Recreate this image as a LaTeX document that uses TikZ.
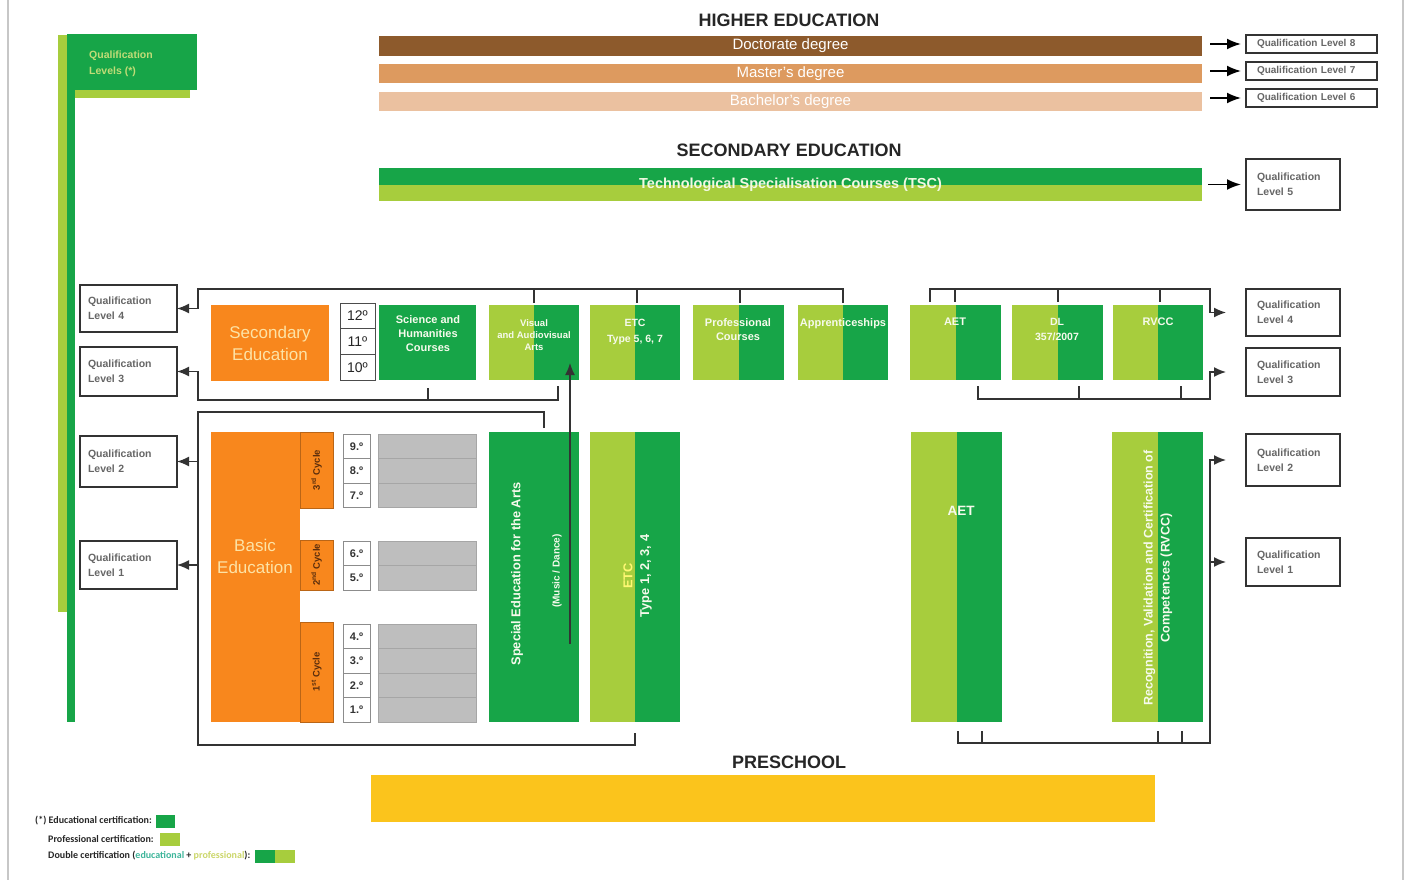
\documentclass[tikz,border=0pt]{standalone}
\usepackage{fontspec}
\setmainfont{Liberation Sans}
\newfontfamily\legendfont{Carlito}
\usetikzlibrary{arrows.meta}
\definecolor{dkg}{HTML}{17A548}
\definecolor{ltg}{HTML}{A7CD3D}
\definecolor{org}{HTML}{F8871D}
\definecolor{brnA}{HTML}{8D5A2C}
\definecolor{brnB}{HTML}{DD9A5F}
\definecolor{brnC}{HTML}{EBC1A0}
\definecolor{gry}{HTML}{BEBEBE}
\definecolor{ylw}{HTML}{FBC41C}
\definecolor{txtg}{HTML}{666666}
\definecolor{cream}{HTML}{FDE3A6}
\definecolor{cyc}{HTML}{5A2D0C}
\definecolor{tealtxt}{HTML}{3DB59A}
\definecolor{paletxt}{HTML}{CBD66A}
\begin{document}
\begin{tikzpicture}[x=1pt,y=-1pt,
  plain/.style={anchor=north west, inner sep=0pt, outer sep=0pt},
  wh/.style 2 args={minimum width=#1pt, minimum height=#2pt},
  splitbox/.style={plain, fill=ltg, path picture={\fill[dkg] (path picture bounding box.north) rectangle (path picture bounding box.south east);}},
  qbox/.style={plain, draw=black!80, line width=1.5pt, fill=white, align=left, text=txtg,
    font=\fontsize{10.5}{15}\selectfont\bfseries},
  qboxL/.style={qbox, inner xsep=8pt, text width=81pt},
  qboxR/.style={qbox, inner xsep=11pt, text width=72pt},
  qboxT/.style={qbox, inner xsep=11pt, text width=109pt, font=\fontsize{10}{12}\selectfont\bfseries},
  head/.style={font=\fontsize{18}{20}\selectfont\bfseries, text=black!85, inner sep=0pt},
  bartext/.style={font=\fontsize{15}{17}\selectfont, text=white},
  boxtext/.style={anchor=north, inner sep=0pt, align=center, text=white!90!ltg,
    font=\fontsize{11}{14}\selectfont\bfseries},
  rottext/.style={rotate=90, inner sep=0pt, align=center, text=white!90!ltg,
    font=\fontsize{12.8}{17}\selectfont\bfseries},
  orgtext/.style={inner sep=0pt, align=center, text=cream, font=\fontsize{17}{22}\selectfont},
  cyctext/.style={rotate=90, inner sep=0pt, text=cyc, font=\fontsize{9.5}{11}\selectfont\bfseries},
  grade/.style={plain, draw=black!45, line width=0.8pt, fill=white, wh={27}{24.5},
    font=\fontsize{11}{12}\selectfont\bfseries, text=black!80},
  bigrade/.style={plain, draw=black!70, line width=0.8pt, fill=white, wh={35}{25.7},
    font=\fontsize{14}{15}\selectfont, text=black!85},
  grayrow/.style={plain, fill=gry, draw=black!35, line width=0.8pt, wh={98}{24.5}},
  conn/.style={draw=black!80, line width=1.5pt},
  arr/.style={conn, -{Latex[length=12pt,width=10pt]}},
  arrT/.style={draw=black, line width=1.8pt, -{Latex[length=14pt,width=11pt]}},
  legend/.style={anchor=west, inner sep=0pt, font=\legendfont\fontsize{10}{11}\selectfont\bfseries, text=black!85}
]
\useasboundingbox (0,0) rectangle (1408,880);

% page frame
\draw[black!22, line width=2pt] (8,0) -- (8,880);
\draw[black!22, line width=2pt] (1403,0) -- (1403,880);

% qualification levels column
\fill[ltg] (58,35) rectangle (67,612);
\fill[dkg] (67,35) rectangle (75,722);
\fill[ltg] (75,90) rectangle (190,98);
\node[plain, fill=dkg, wh={130}{56}] (qlev) at (67,34) {};
\node[anchor=north west, inner sep=0pt, align=left, text=ltg!70!white,
  font=\fontsize{10.5}{16}\selectfont\bfseries] (qlevt) at (89,51) {Qualification\\Levels (*)};

% higher education
\node[head] (he) at (789,20) {HIGHER EDUCATION};
\node[plain, fill=brnA, wh={823}{20}, bartext] (doc) at (379,36) {Doctorate degree};
\node[plain, fill=brnB, wh={823}{19}, bartext] (mas) at (379,64) {Master's degree};
\node[plain, fill=brnC, wh={823}{19}, bartext] (bac) at (379,92) {Bachelor's degree};
\node[qboxT, wh={131}{18}] (q8) at (1246,35) {Qualification Level 8};
\node[qboxT, wh={131}{18}] (q7) at (1246,62) {Qualification Level 7};
\node[qboxT, wh={131}{18}] (q6) at (1246,89) {Qualification Level 6};
\draw[arrT] ([xshift=-36pt]q8.west) -- ([xshift=-5pt]q8.west);
\draw[arrT] ([xshift=-36pt]q7.west) -- ([xshift=-5pt]q7.west);
\draw[arrT] ([xshift=-36pt]q6.west) -- ([xshift=-5pt]q6.west);

% secondary education (post-secondary)
\node[head] (se) at (789,150) {SECONDARY EDUCATION};
\node[plain, fill=ltg, wh={823}{33},
  path picture={\fill[dkg] (path picture bounding box.north west) rectangle ([yshift=-17pt]path picture bounding box.north east);},
  font=\fontsize{14.5}{16}\selectfont\bfseries, text=white!85!ltg] (tsc) at (379,168) {Technological Specialisation Courses (TSC)};
\node[qboxR, wh={94}{51}] (q5) at (1246,159) {Qualification\\Level 5};
\draw[arrT] ([xshift=-38pt]q5.west) -- ([xshift=-5pt]q5.west);

% qualification boxes, left
\node[qboxL, wh={97}{47}] (qL4) at (80,285) {Qualification\\Level 4};
\node[qboxL, wh={97}{49}] (qL3) at (80,347) {Qualification\\Level 3};
\node[qboxL, wh={97}{51}] (qL2) at (80,436) {Qualification\\Level 2};
\node[qboxL, wh={97}{48}] (qL1) at (80,541) {Qualification\\Level 1};

% qualification boxes, right
\node[qboxR, wh={94}{47}] (qR4) at (1246,289) {Qualification\\Level 4};
\node[qboxR, wh={94}{48}] (qR3) at (1246,348) {Qualification\\Level 3};
\node[qboxR, wh={94}{52}] (qR2) at (1246,434) {Qualification\\Level 2};
\node[qboxR, wh={94}{48}] (qR1) at (1246,538) {Qualification\\Level 1};

% upper secondary row
\node[plain, fill=org, wh={118}{76}] (sec) at (211,305) {};
\node[orgtext] (sect) at (sec.center) {Secondary\\Education};
\node[bigrade] (g12) at (340,303) {12º};
\node[bigrade] (g11) at (340,328.7) {11º};
\node[bigrade] (g10) at (340,354.4) {10º};
\node[plain, fill=dkg, wh={97}{75}] (sci) at (379,305) {};
\node[boxtext] (scit) at (428,315) {Science and\\Humanities\\Courses};
\node[splitbox, wh={90}{75}] (vis) at (489,305) {};
\node[boxtext, font=\fontsize{9.5}{12}\selectfont\bfseries] (vist) at (534,319) {Visual\\and Audiovisual\\Arts};
\node[splitbox, wh={90}{75}] (etcA) at (590,305) {};
\node[boxtext, font=\fontsize{10.5}{16}\selectfont\bfseries] (etcAt) at (635,319) {ETC\\Type 5, 6, 7};
\node[splitbox, wh={91}{75}] (prof) at (693,305) {};
\node[boxtext] (proft) at (738,318) {Professional\\Courses};
\node[splitbox, wh={90}{75}] (appr) at (798,305) {};
\node[boxtext] (apprt) at (843,318) {Apprenticeships};
\node[splitbox, wh={91}{75}] (aet) at (910,305) {};
\node[boxtext] (aett) at (955,318) {AET};
\node[splitbox, wh={91}{75}] (dl) at (1012,305) {};
\node[boxtext, font=\fontsize{10.5}{15}\selectfont\bfseries] (dlt) at (1057,318) {DL\\357/2007};
\node[splitbox, wh={90}{75}] (rvcc) at (1113,305) {};
\node[boxtext] (rvcct) at (1158,318) {RVCC};

% basic education
\node[plain, fill=org, wh={89}{290}] (basic) at (211,432) {};
\node[orgtext] (basict) at (255,556) {Basic\\Education};
\node[plain, fill=org, draw=org!75!black, line width=0.6pt, wh={33}{76}] (c3) at (300,432) {};
\node[plain, fill=org, draw=org!75!black, line width=0.6pt, wh={33}{50}] (c2) at (300,540) {};
\node[plain, fill=org, draw=org!75!black, line width=0.6pt, wh={33}{100}] (c1) at (300,622) {};
\node[cyctext] (c3t) at (c3.center) {3\textsuperscript{rd} Cycle};
\node[cyctext] (c2t) at (c2.center) {2\textsuperscript{nd} Cycle};
\node[cyctext] (c1t) at (c1.center) {1\textsuperscript{st} Cycle};
\foreach \g/\y in {9/434,8/458.5,7/483,6/541,5/565.5,4/624,3/648.5,2/673,1/697.5}{
  \node[grade] (g\g) at (343,\y) {\g.º};
  \node[grayrow] (row\g) at (378,\y) {};
}

\node[plain, fill=dkg, wh={90}{290}] (arts) at (489,432) {};
\node[rottext] (artst) at (517,574) {Special Education for the Arts};
\node[rottext, font=\fontsize{10}{11}\selectfont\bfseries] (artsm) at (557,571) {(Music / Dance)};
\node[splitbox, wh={90}{290}] (etcB) at (590,432) {};
\node[rottext, text=yellow!55!white] (etcBa) at (628,576) {ETC};
\node[rottext] (etcBb) at (646,576) {Type 1, 2, 3, 4};

\node[splitbox, wh={91}{290}] (aetB) at (911,432) {};
\node[inner sep=0pt, text=white!90!ltg, font=\fontsize{13.5}{15}\selectfont\bfseries] (aetBt) at (961,511) {AET};
\node[splitbox, wh={91}{290}] (rvccB) at (1112,432) {};
\node[rottext, font=\fontsize{12.5}{17}\selectfont\bfseries] (rvccBt) at (1158,578)
  {Recognition, Validation and Certification of\\Competences (RVCC)};

% preschool
\node[head] (ps) at (789,762) {PRESCHOOL};
\node[plain, fill=ylw, wh={784}{47}] (pre) at (371,775) {};

% connectors, left
\draw[arr] (843,303) -- (843,289) -- (198,289) |- (qL4.east);
\foreach \x in {534,637,740} \draw[conn] (\x,289) -- (\x,303);
\draw[arr] (558,386) -- (558,400) -- (198,400) |- (qL3.east);
\draw[conn] (428,388) -- (428,400);
\draw[conn] (544,428) -- (544,412) -- (198,412) -- (198,745) -- (635,745) -- (635,733);
\draw[arr] (198,461.5) -- (qL2.east);
\draw[arr] (198,565) -- (qL1.east);
\draw[arr] (570,644) -- (570,363);

% connectors, right
\draw[arr] (930,302) -- (930,289) -- (1210,289) |- ([xshift=-20pt]qR4.west);
\foreach \x in {955,1058,1160} \draw[conn] (\x,289) -- (\x,302);
\draw[arr] (978,386) -- (978,399) -- (1210,399) |- ([xshift=-20pt]qR3.west);
\foreach \x in {1079,1181} \draw[conn] (\x,386) -- (\x,399);
\draw[arr] (958,731) -- (958,743) -- (1210,743) |- ([xshift=-20pt]qR2.west);
\draw[arr] (1210,562) -- ([xshift=-20pt]qR1.west);
\foreach \x in {982,1158,1182} \draw[conn] (\x,731) -- (\x,743);

% legend
\node[legend] (lg1) at (35,821) {(*) Educational certification:};
\node[plain, fill=dkg, wh={19}{13}] (lgs1) at (156,815) {};
\node[legend] (lg2) at (48,839) {Professional certification:};
\node[plain, fill=ltg, wh={20}{13}] (lgs2) at (160,833) {};
\node[legend] (lg3) at (48,856) {Double certification (\textcolor{tealtxt}{educational} + \textcolor{paletxt}{professional}):};
\node[plain, fill=dkg, wh={20}{13}] (lgs3) at (255,850) {};
\node[plain, fill=ltg, wh={20}{13}] (lgs4) at (275,850) {};
\end{tikzpicture}
\end{document}
